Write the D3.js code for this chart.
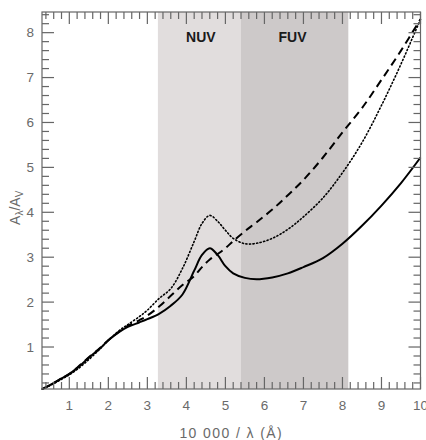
<!DOCTYPE html>
<html>
<head>
<meta charset="utf-8">
<script src="https://cdn.jsdelivr.net/npm/d3@7"></script>
<style>
  body { margin: 0; background: #fff; }
  svg { display: block; font-family: "Liberation Sans", Arial, sans-serif; }
  .tick-label { fill: #6a6a6a; font-size: 13.5px; }
  .axis-label { fill: #6a6a6a; font-size: 14px; }
  .band-label { fill: #1a1a1a; font-size: 14px; font-weight: bold; }
</style>
</head>
<body>
<svg width="426" height="440"></svg>
<script>
"use strict";

// wavenumber 10 000 / lambda (1/micron)
const waveNumber = [0.3, 0.5, 0.8, 1.0, 1.2, 1.5, 1.8, 2.0, 2.3, 2.5, 2.8, 3.0, 3.3, 3.6, 3.9,
  4.2, 4.4, 4.6, 4.8, 5.0, 5.2, 5.5, 5.8, 6.2, 6.6, 7.0, 7.5, 8.0, 8.5, 9.0, 9.5, 10];

const solidCurve = [0.06, 0.15, 0.30, 0.40, 0.53, 0.76, 0.98, 1.15, 1.35, 1.45, 1.55, 1.62, 1.74, 1.92, 2.17,
  2.70, 3.05, 3.20, 3.05, 2.80, 2.64, 2.54, 2.51, 2.55, 2.64, 2.78, 2.98, 3.30, 3.70, 4.15, 4.65, 5.22];

const dashedCurve = [0.06, 0.15, 0.30, 0.40, 0.54, 0.77, 0.99, 1.15, 1.36, 1.47, 1.60, 1.70, 1.90, 2.14, 2.38,
  2.58, 2.78, 2.95, 3.07, 3.20, 3.36, 3.58, 3.78, 4.06, 4.38, 4.72, 5.22, 5.78, 6.32, 6.95, 7.60, 8.30];

const dottedCurve = [0.06, 0.14, 0.28, 0.38, 0.50, 0.72, 0.97, 1.15, 1.38, 1.50, 1.68, 1.82, 2.08, 2.30, 2.75,
  3.35, 3.75, 3.93, 3.80, 3.60, 3.42, 3.30, 3.31, 3.42, 3.62, 3.90, 4.32, 4.88, 5.55, 6.38, 7.30, 8.30];

const bands = [
  { name: "NUV", from: 3.27, to: 5.40, labelAt: 4.37, color: "#e1dddd" },
  { name: "FUV", from: 5.40, to: 8.15, labelAt: 6.72, color: "#cdc9c9" }
];

const xTicks = [1, 2, 3, 4, 5, 6, 7, 8, 9, 10];
const yTicks = [1, 2, 3, 4, 5, 6, 7, 8];

const svg = d3.select("svg");
const width = +svg.attr("width");
const height = +svg.attr("height");

const margin = { top: 12, right: 5.5, bottom: 51, left: 42 };
const innerWidth = width - margin.left - margin.right;
const innerHeight = height - margin.top - margin.bottom;

const axisColor = "#666";
const majorLen = 12;
const minorLen = 7;
const tickW = 1.2;

const xScale = d3.scaleLinear().domain([0.3, 10]).range([0, innerWidth]);
const yScale = d3.scaleLinear().domain([0.065, 8.46]).range([innerHeight, 0]);

const g = svg.append("g")
  .attr("transform", `translate(${margin.left},${margin.top})`);

// shaded NUV / FUV regions
g.selectAll("rect.band")
  .data(bands)
  .enter()
  .append("rect")
  .attr("class", "band")
  .attr("x", d => xScale(d.from))
  .attr("width", d => xScale(d.to) - xScale(d.from))
  .attr("y", 0)
  .attr("height", innerHeight)
  .attr("fill", d => d.color);

g.selectAll("text.band-label")
  .data(bands)
  .enter()
  .append("text")
  .attr("class", "band-label")
  .attr("x", d => xScale(d.labelAt))
  .attr("y", 30)
  .attr("text-anchor", "middle")
  .text(d => d.name);

// curves
const lineGen = d3.line()
  .x(d => xScale(d[0]))
  .y(d => yScale(d[1]))
  .curve(d3.curveCatmullRom.alpha(0.5));

const series = [
  { values: dottedCurve, width: 1.6, dash: "1.2,2.4", cap: "round" },
  { values: dashedCurve, width: 2, dash: "8,5", cap: "butt" },
  { values: solidCurve, width: 2, dash: null, cap: "butt" }
];

series.forEach(s => {
  g.append("path")
    .datum(waveNumber.map((x, i) => [x, s.values[i]]))
    .attr("fill", "none")
    .attr("stroke", "#000")
    .attr("stroke-width", s.width)
    .attr("stroke-dasharray", s.dash)
    .attr("stroke-linecap", s.cap)
    .attr("d", lineGen);
});

// inward ticks on all four sides, drawn as thin filled rects
const minorX = d3.range(0.4, 10, 0.2).filter(v => Math.abs(v - Math.round(v)) > 0.01);
const minorY = d3.range(0.2, 8.46, 0.2).filter(v => Math.abs(v - Math.round(v)) > 0.01);

const xTickData = xTicks.map(v => ({ v, len: majorLen })).concat(minorX.map(v => ({ v, len: minorLen })));
const yTickData = yTicks.map(v => ({ v, len: majorLen })).concat(minorY.map(v => ({ v, len: minorLen })));

const ticksG = g.append("g").attr("fill", axisColor);

// bottom and top
[true, false].forEach(isBottom => {
  ticksG.selectAll(null)
    .data(xTickData)
    .enter()
    .append("rect")
    .attr("x", d => xScale(d.v) - tickW / 2)
    .attr("width", tickW)
    .attr("y", d => isBottom ? innerHeight - d.len : 0)
    .attr("height", d => d.len);
});

// left and right
[true, false].forEach(isLeft => {
  ticksG.selectAll(null)
    .data(yTickData)
    .enter()
    .append("rect")
    .attr("y", d => yScale(d.v) - tickW / 2)
    .attr("height", tickW)
    .attr("x", d => isLeft ? 0 : innerWidth - d.len)
    .attr("width", d => d.len);
});

// tick labels
g.selectAll("text.x-tick")
  .data(xTicks)
  .enter()
  .append("text")
  .attr("class", "tick-label x-tick")
  .attr("x", d => xScale(d))
  .attr("y", innerHeight + 21)
  .attr("text-anchor", "middle")
  .text(d3.format("d"));

g.selectAll("text.y-tick")
  .data(yTicks)
  .enter()
  .append("text")
  .attr("class", "tick-label y-tick")
  .attr("x", -8)
  .attr("y", d => yScale(d))
  .attr("dy", "0.35em")
  .attr("text-anchor", "end")
  .text(d3.format("d"));

// frame
g.append("rect")
  .attr("width", innerWidth)
  .attr("height", innerHeight)
  .attr("fill", "none")
  .attr("stroke", axisColor)
  .attr("stroke-width", 1.2);

// axis labels
svg.append("text")
  .attr("class", "axis-label")
  .attr("x", margin.left + innerWidth / 2)
  .attr("y", 438)
  .attr("text-anchor", "middle")
  .attr("letter-spacing", "1.4px")
  .text("10 000 / λ (Å)");

const yl = svg.append("text")
  .attr("class", "axis-label")
  .attr("transform", `translate(20,${margin.top + yScale(4.1)}) rotate(-90)`)
  .attr("text-anchor", "middle");
yl.append("tspan").text("A");
yl.append("tspan").attr("font-size", "10px").attr("dy", 3).text("λ");
yl.append("tspan").attr("dy", -3).text("/A");
yl.append("tspan").attr("font-size", "10px").attr("dy", 3).text("V");
</script>
</body>
</html>
